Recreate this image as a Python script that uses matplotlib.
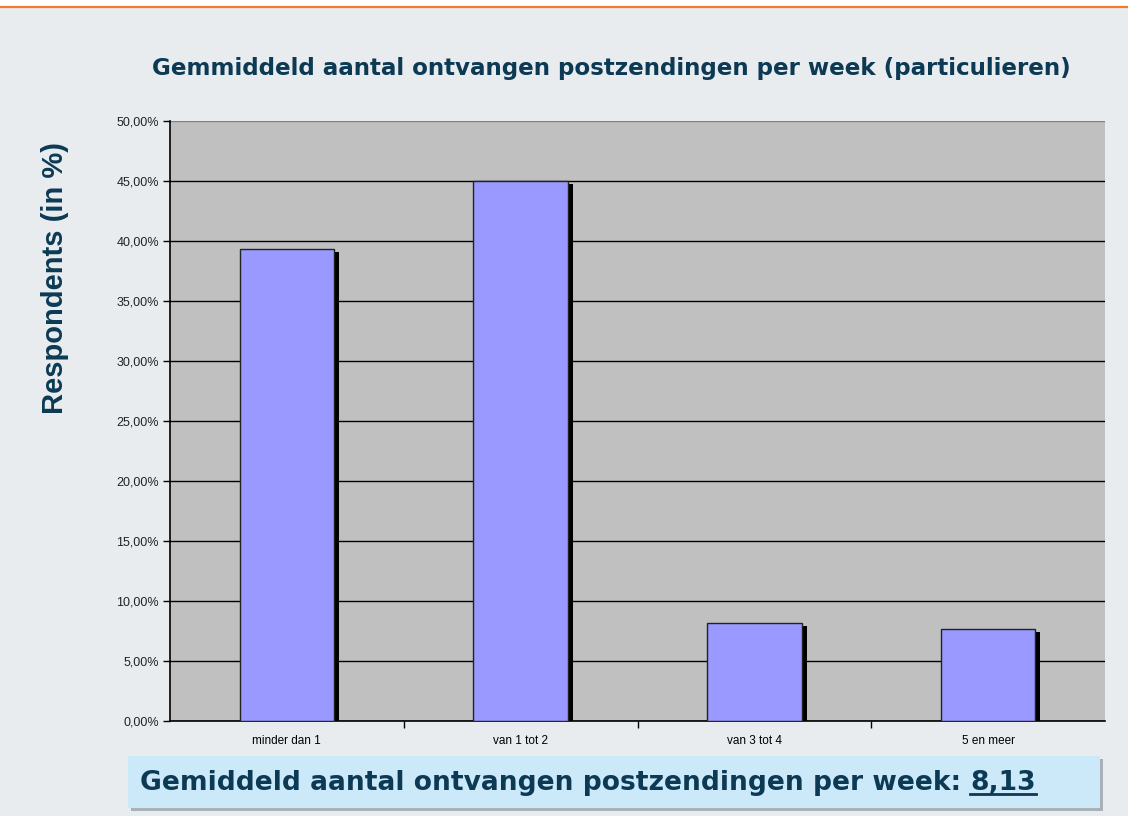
import matplotlib
matplotlib.use("Agg")
import matplotlib.pyplot as plt
from matplotlib.patches import Rectangle
from matplotlib.lines import Line2D
from matplotlib.ticker import FuncFormatter

categories = ["minder dan 1", "van 1 tot 2", "van 3 tot 4", "5 en meer"]
percentages = [39.3, 45.0, 8.15, 7.65]
y_ticks = [0, 5, 10, 15, 20, 25, 30, 35, 40, 45, 50]
average_text = "Gemiddeld aantal ontvangen postzendingen per week: "
average_value = "8,13"

navy = "#0c3a55"
W, H = 1128, 816
fig = plt.figure(figsize=(W / 100, H / 100), dpi=100)
fig.patch.set_facecolor("#e9ecee")

# white strip and orange rule on top
fig.add_artist(Rectangle((0, 1 - 6 / H), 1, 6 / H, transform=fig.transFigure,
                         facecolor="white", edgecolor="none"))
fig.add_artist(Line2D([0, 1], [1 - 7 / H, 1 - 7 / H], transform=fig.transFigure,
                      color="#f07a2a", linewidth=1.6))

ax = fig.add_axes([170 / W, 1 - 721 / H, 935 / W, 600 / H])
ax.set_facecolor("#c0c0c0")

x = list(range(len(categories)))
bw = 0.405
# shadow first
dx, dy = 5 / 233.75, 3 / 12
ax.bar([i + dx for i in x], [p - dy for p in percentages], width=bw,
       color="black", zorder=2)
ax.bar(x, percentages, width=bw, color="#9999ff", edgecolor="#222222",
       linewidth=1.0, zorder=3)

ax.set_xlim(-0.5, len(categories) - 0.5)
ax.set_ylim(0, 50)
ax.set_yticks(y_ticks)
ax.yaxis.set_major_formatter(FuncFormatter(lambda v, p: f"{v:.2f}%".replace(".", ",")))
ax.grid(axis="y", color="black", linewidth=1.0, zorder=1)
ax.get_ygridlines()[-1].set_color("#808080")
ax.set_axisbelow(True)

ax.set_xticks(x)
ax.set_xticklabels(categories, fontsize=8.5, family="Liberation Sans")
ax.set_xticks([i + 0.5 for i in x[:-1]], minor=True)
ax.tick_params(axis="x", which="major", length=0, pad=10)
ax.tick_params(axis="x", which="minor", length=5, direction="out", width=1)
ax.tick_params(axis="y", length=5, width=1, direction="out", labelsize=9, pad=3)
for lbl in ax.get_yticklabels():
    lbl.set_family("Liberation Sans")
    lbl.set_color("#222222")

for s in ["top", "right"]:
    ax.spines[s].set_visible(False)
ax.spines["left"].set_linewidth(1.2)
ax.spines["bottom"].set_linewidth(1.2)

fig.text(611 / W, 1 - 68 / H, "Gemmiddeld aantal ontvangen postzendingen per week (particulieren)",
         ha="center", va="center", fontsize=16.6, fontweight="bold", color=navy,
         family="DejaVu Sans")
fig.text(55 / W, 1 - 278 / H, "Respondents (in %)", rotation=90, ha="center", va="center",
         fontsize=21, fontweight="bold", color=navy, family="Liberation Sans")

# bottom info box with shadow
bx0, by0, bw_, bh_ = 128, 756, 972, 52
fig.add_artist(Rectangle((bx0 / W + 3 / W, 1 - (by0 + bh_ + 3) / H), bw_ / W, bh_ / H,
                         transform=fig.transFigure, facecolor="#a8b0b8", edgecolor="none"))
fig.add_artist(Rectangle((bx0 / W, 1 - (by0 + bh_) / H), bw_ / W, bh_ / H,
                         transform=fig.transFigure, facecolor="#cce9fa", edgecolor="none"))
t1 = fig.text(140 / W, 1 - 783 / H, average_text, ha="left", va="center",
              fontsize=19.1, fontweight="bold", color=navy, family="DejaVu Sans")
fig.canvas.draw()
r = fig.canvas.get_renderer()
ext = t1.get_window_extent(r)
t2 = fig.text(ext.x1 / W, 1 - 783 / H, average_value, ha="left", va="center",
              fontsize=19.1, fontweight="bold", color=navy, family="DejaVu Sans")
ext2 = t2.get_window_extent(r)
uy = ext2.y0 + 2
fig.add_artist(Line2D([ext2.x0 / W, ext2.x1 / W], [uy / H, uy / H],
                      transform=fig.transFigure, color=navy, linewidth=2))

fig.savefig("out.png", dpi=100, facecolor=fig.get_facecolor())
